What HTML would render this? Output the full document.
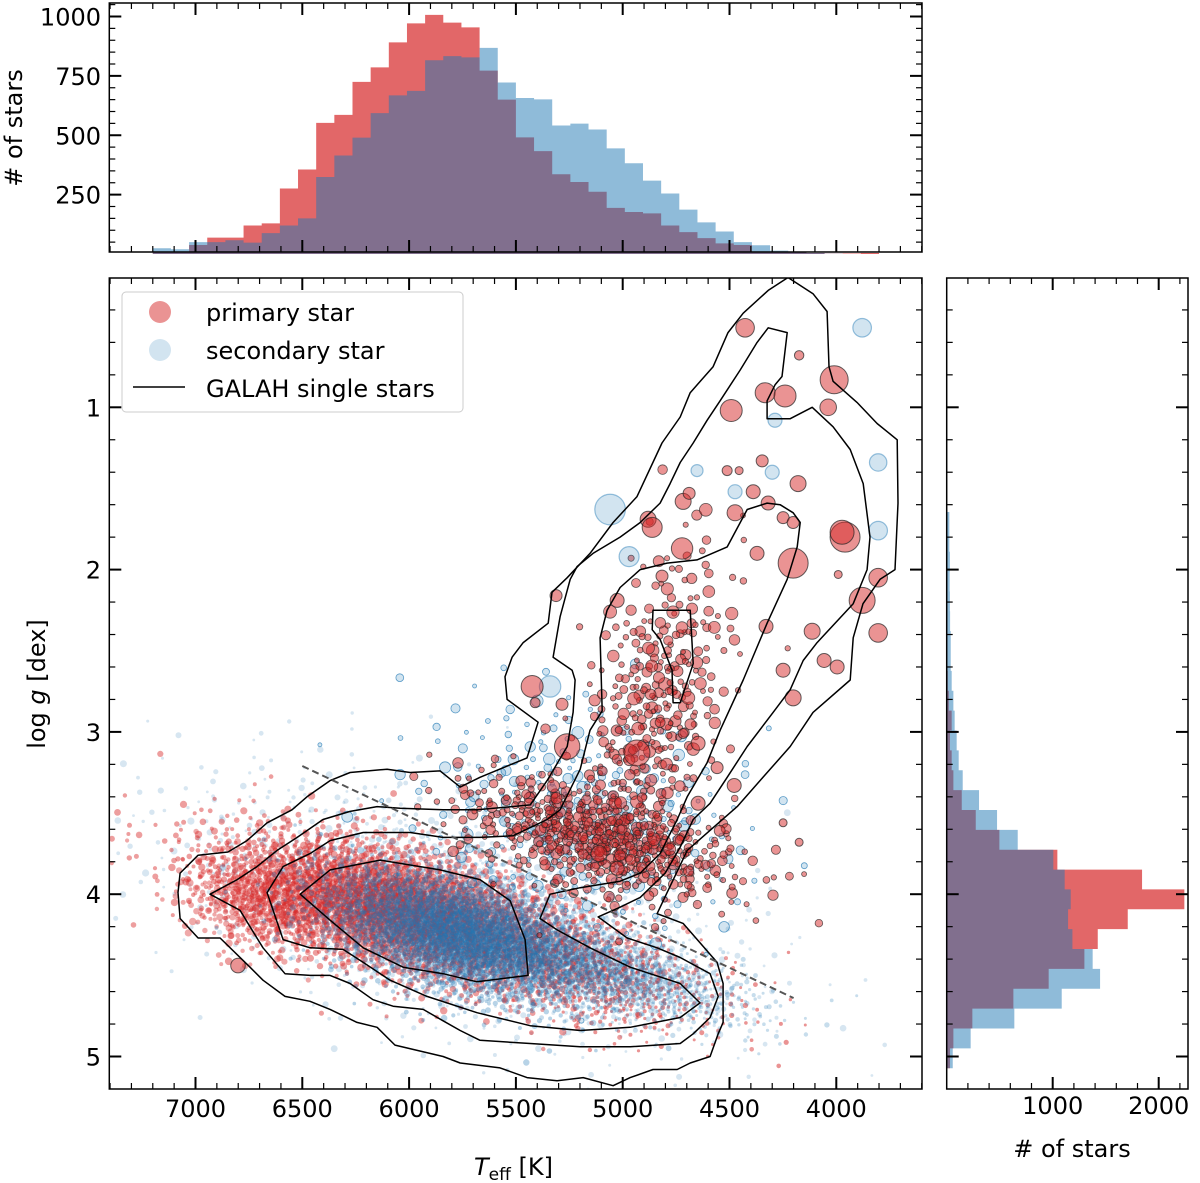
<!DOCTYPE html>
<html><head><meta charset="utf-8">
<style>
html,body{margin:0;padding:0;background:#fff;}
svg{display:block;font-family:"DejaVu Sans","Liberation Sans",sans-serif;}
</style></head>
<body>
<svg id="fig" width="1200" height="1183" viewBox="0 0 1200 1183" xmlns="http://www.w3.org/2000/svg">
<defs><clipPath id="mainclip"><rect x="109.3" y="278" width="812.7" height="811"/></clipPath></defs>
<rect width="1200" height="1183" fill="#fff"/>
<g id="tophist"></g>
<g id="righthist"></g>
<g id="scatter" clip-path="url(#mainclip)"></g>
<g id="contours" clip-path="url(#mainclip)"></g>
<g id="axes"></g>
<g id="legend">
  <rect x="122" y="292" width="341" height="120" rx="4" fill="#fff" fill-opacity="0.85" stroke="#ccc" stroke-width="1"/>
  <circle cx="160" cy="312" r="11" fill="#d62728" fill-opacity="0.5"/>
  <text x="206" y="321" font-size="24">primary star</text>
  <circle cx="160" cy="350" r="11" fill="#1f77b4" fill-opacity="0.2"/>
  <text x="206" y="359" font-size="24">secondary star</text>
  <line x1="133" y1="387" x2="185" y2="387" stroke="#000" stroke-width="1.5"/>
  <text x="206" y="397" font-size="24">GALAH single stars</text>
</g>
<text x="474" y="1175" font-size="24"><tspan font-style="italic">T</tspan><tspan font-size="17" dy="5">eff</tspan><tspan dy="-5"> [K]</tspan></text>
<text transform="translate(45,684) rotate(-90)" text-anchor="middle" font-size="24">log <tspan font-style="italic">g</tspan> [dex]</text>
<text transform="translate(22,128) rotate(-90)" text-anchor="middle" font-size="24"># of stars</text>
<text x="1072" y="1157" text-anchor="middle" font-size="24"># of stars</text>
</svg>
<script>
// ---------- data ----------
const teffBinStart = 7200;
const teffBinWidth = 85;
const teffCountsPrimary = [10,10,38,69,69,120,129,276,356,552,586,725,786,891,971,1007,974,954,772,650,491,433,336,303,262,194,177,171,120,92,67,45,38,10,10,7,4,1,2,4];
const teffCountsSecondary = [24,20,50,50,58,48,88,120,150,324,415,490,593,668,687,816,833,828,868,722,657,651,541,549,524,445,382,309,255,187,133,95,50,37,14,7,4,1,0,0];
const loggBinStart = 1.645;
const loggBinWidth = 0.1224;
const loggCountsPrimary = [0,0,0,0,0,0,0,5,10,20,47,31,47,63,142,274,497,1044,1843,2242,1708,1425,1299,962,629,242,63,31];
const loggCountsSecondary = [25,25,30,28,30,32,38,38,47,63,75,94,113,151,305,475,670,1006,1113,1170,1145,1186,1377,1447,1085,638,226,57];
const teffTickLabels = [7000,6500,6000,5500,5000,4500,4000];
const loggTickLabels = [1,2,3,4,5];
const topCountTickLabels = [250,500,750,1000];
const rightCountTickLabels = [1000,2000];

// GALAH single-star density contours [Teff, logg]
const contourOuter = [[4226,0.20],[4109,0.30],[4043,0.41],[4034,0.75],[4015,0.84],[3903,0.97],[3809,1.10],[3715,1.20],[3711,1.59],[3725,2.00],[3795,2.06],[3875,2.21],[3921,2.42],[3935,2.68],[4109,2.88],[4216,3.09],[4343,3.28],[4464,3.46],[4577,3.59],[4698,3.73],[4792,3.99],[4839,4.12],[4778,4.15],[4717,4.18],[4558,4.42],[4530,4.55],[4530,4.79],[4553,4.86],[4591,5.00],[4684,5.04],[4745,5.08],[4858,5.08],[4965,5.13],[5045,5.18],[5185,5.13],[5307,5.15],[5448,5.13],[5574,5.07],[5761,5.04],[5841,5.00],[6066,4.93],[6150,4.82],[6244,4.79],[6370,4.71],[6464,4.66],[6581,4.63],[6684,4.53],[6745,4.45],[6885,4.27],[6988,4.27],[7072,4.15],[7082,3.99],[7072,3.87],[6988,3.76],[6848,3.74],[6759,3.67],[6665,3.56],[6548,3.48],[6478,3.40],[6370,3.30],[6276,3.25],[6103,3.23],[5995,3.25],[5855,3.24],[5761,3.34],[5668,3.28],[5448,3.16],[5396,2.94],[5541,2.80],[5551,2.66],[5518,2.54],[5466,2.45],[5349,2.33],[5331,2.14],[5260,2.05],[5153,1.90],[5045,1.71],[4933,1.55],[4816,1.22],[4731,1.06],[4684,0.91],[4577,0.75],[4507,0.54],[4436,0.42],[4319,0.28]];
const contourSecond = [[4319,0.51],[4230,0.54],[4254,0.81],[4286,0.86],[4324,0.96],[4324,1.07],[4216,1.07],[4113,1.00],[4015,1.12],[3935,1.26],[3874,1.47],[3842,1.80],[3856,2.00],[3921,2.21],[4090,2.45],[4155,2.56],[4216,2.74],[4296,2.88],[4417,3.09],[4511,3.28],[4591,3.44],[4670,3.54],[4731,3.71],[4801,3.87],[4918,4.02],[5012,4.08],[5115,4.14],[4979,4.27],[4839,4.33],[4731,4.39],[4591,4.49],[4553,4.63],[4591,4.76],[4670,4.86],[4731,4.92],[4965,4.94],[5199,4.94],[5433,4.92],[5668,4.90],[5761,4.84],[5841,4.78],[5934,4.71],[6075,4.69],[6169,4.65],[6276,4.55],[6370,4.50],[6464,4.50],[6581,4.49],[6684,4.33],[6745,4.20],[6791,4.10],[6932,4.00],[6805,3.91],[6712,3.83],[6618,3.73],[6524,3.65],[6403,3.54],[6276,3.49],[6150,3.46],[6042,3.47],[5841,3.48],[5682,3.48],[5433,3.45],[5354,3.30],[5260,3.09],[5232,2.88],[5223,2.68],[5237,2.62],[5326,2.54],[5293,2.29],[5246,2.06],[5213,1.98],[5139,1.90],[5012,1.80],[4918,1.71],[4825,1.59],[4778,1.47],[4731,1.34],[4670,1.22],[4605,1.08],[4544,0.96],[4450,0.77],[4371,0.60]];
const contourThird = [[5096,2.87],[5106,2.42],[5073,2.25],[5012,2.11],[4918,2.00],[4792,1.96],[4652,1.94],[4511,1.86],[4417,1.63],[4324,1.59],[4263,1.60],[4202,1.65],[4169,1.71],[4183,1.86],[4230,2.06],[4324,2.33],[4436,2.68],[4544,2.99],[4605,3.19],[4698,3.40],[4745,3.54],[4825,3.75],[4918,3.87],[5012,3.92],[5199,3.96],[5340,4.00],[5387,4.15],[5307,4.22],[5153,4.33],[4965,4.45],[4731,4.55],[4638,4.67],[4731,4.76],[4965,4.82],[5199,4.84],[5433,4.81],[5682,4.73],[5916,4.63],[6089,4.53],[6215,4.42],[6309,4.34],[6464,4.33],[6590,4.28],[6665,3.99],[6590,3.83],[6464,3.75],[6370,3.67],[6215,3.62],[5995,3.62],[5841,3.65],[5668,3.65],[5513,3.64],[5354,3.54],[5293,3.48],[5199,3.23],[5153,2.99]];
const contourClumpCore = [[4858,2.25],[4684,2.25],[4670,2.58],[4731,2.82],[4764,2.82],[4769,2.62],[4825,2.43],[4862,2.37]];
const contourDwarfCore = [[6510,4.00],[6370,3.85],[6136,3.79],[5855,3.85],[5668,3.91],[5527,4.04],[5457,4.28],[5443,4.50],[5682,4.54],[5841,4.49],[6028,4.45],[6215,4.33],[6370,4.16]];
const dividerTeff = [6500,4200];
const dividerLogg = [3.21,4.64];

// individual large markers
const bigPrimaryTeff = [4427,4174,4010,4333,4240,4492,4038,4347,4511,4455,4179,4717,4689,4881,4862,4722,3959,3973,4202,4474,4319,4249,4202,4389,4371,3804,3879,3804,4329,4113,5424,4202,4249,4057,3996,3991,5312,4816,5026,6801,5260,4933,5410,5284,4647,4558,4478,5026,5111,4647,4717,4174,4249];
const bigPrimaryLogg = [0.51,0.68,0.83,0.91,0.93,1.02,1.00,1.33,1.39,1.39,1.47,1.58,1.53,1.69,1.74,1.87,1.80,1.77,1.96,1.65,1.59,1.68,1.71,1.52,1.90,2.05,2.19,2.39,2.35,2.38,2.72,2.79,2.62,2.56,2.60,2.03,2.16,2.04,2.19,4.44,3.09,3.13,2.82,2.83,3.44,3.22,3.33,3.84,3.75,3.07,3.01,3.68,3.56];
const bigPrimaryValue = [9.3,4.7,14,10,11,11,8.3,6,5,4,8,8,6,8,10,10.7,15,12,15,8,7,6,6,7,7,9.3,13,9.3,7,8,11,8,7,7,7,4,6,6,7,7.3,12.7,13,5,6,7,6,7,7,8,7,5,4,4];
const bigSecondaryTeff = [5059,3879,3804,3804,4287,5340,4970,4652,4300,4474];
const bigSecondaryLogg = [1.63,0.51,1.34,1.76,1.08,2.72,1.92,1.39,1.40,1.52];
const bigSecondaryValue = [15.3,9.3,8.7,9.3,7,10.7,10,6,7,7];

// population clusters (centre, spread, tilt in dex per 1000 K, number of stars)
const clusterName  = ['halo-blue','ms-red','ms-red-hot','ms-red-cool','ms-blue','ms-blue-cool','sg-blue','sg-red','rgb-red'];
const clusterTeff  = [5800,6050,6700,5200,5750,5000,5200,5100,4850];
const clusterLogg  = [4.10,4.10,4.05,4.45,4.25,4.50,3.50,3.65,2.85];
const clusterSdT   = [650,430,180,350,330,300,380,330,180];
const clusterSdG   = [0.35,0.20,0.15,0.17,0.18,0.12,0.35,0.16,0.45];
const clusterTilt  = [-0.3,-0.3,-0.2,-0.3,-0.3,-0.3,-0.2,-0.3,1.2];
const clusterCount = [1500,3200,450,800,3500,1200,300,550,330];

// ---------- scales ----------
const X = T => 195.5 + (7000 - T) * 0.2136;
const Y = g => 407.3 + (g - 1) * 162.3;
const HY = c => 254 - c * 0.2375;
const RX = c => 946.7 + c * 0.106;
const NS = 'http://www.w3.org/2000/svg';
function mk(tag, attrs, parent){const e=document.createElementNS(NS,tag);for(const k in attrs)e.setAttribute(k,attrs[k]);parent.appendChild(e);return e;}

// ---------- top histogram ----------
const topG = document.getElementById('tophist');
function topPath(counts){
  let d = 'M' + X(teffBinStart) + ',' + HY(0);
  counts.forEach((c,i)=>{const x0=X(teffBinStart - i*teffBinWidth), x1=X(teffBinStart-(i+1)*teffBinWidth);d+=' L'+x0+','+HY(c)+' L'+x1+','+HY(c);});
  d += ' L' + X(teffBinStart - counts.length*teffBinWidth) + ',' + HY(0) + ' Z';
  return d;
}
const tpR = mk('path',{d:topPath(teffCountsPrimary),fill:'#d62728','fill-opacity':0.7},topG);


const tpB = mk('path',{d:topPath(teffCountsSecondary),fill:'#1f77b4','fill-opacity':0.5},topG);



// ---------- right histogram ----------
const rh = document.getElementById('righthist');
function rightPath(counts){
  let d = 'M' + RX(0) + ',' + Y(loggBinStart);
  counts.forEach((c,i)=>{const y0=Y(loggBinStart+i*loggBinWidth), y1=Y(loggBinStart+(i+1)*loggBinWidth);d+=' L'+RX(c)+','+y0+' L'+RX(c)+','+y1;});
  d += ' L' + RX(0) + ',' + Y(loggBinStart+counts.length*loggBinWidth) + ' Z';
  return d;
}
const rpR = mk('path',{d:rightPath(loggCountsPrimary),fill:'#d62728','fill-opacity':0.7},rh);


const rpB = mk('path',{d:rightPath(loggCountsSecondary),fill:'#1f77b4','fill-opacity':0.5},rh);



// ---------- scatter ----------
const sc = document.getElementById('scatter');
function halton(i,b){let f=1,r=0;while(i>0){f/=b;r+=f*(i%b);i=Math.floor(i/b);}return r;}
const clusterStyle = {
  'halo-blue':   {fill:'#1f77b4',op:0.18,r0:1.4,rv:2.2,stroke:null},
  'ms-red':      {fill:'#d62728',op:0.45,r0:2.0,rv:1.8,stroke:null},
  'ms-red-hot':  {fill:'#d62728',op:0.4,r0:2.0,rv:1.8,stroke:null},
  'ms-red-cool': {fill:'#d62728',op:0.5,r0:1.5,rv:1.2,stroke:null},
  'ms-blue':     {fill:'#1f77b4',op:0.32,r0:1.8,rv:1.6,stroke:null},
  'ms-blue-cool':{fill:'#1f77b4',op:0.25,r0:1.5,rv:1.2,stroke:null},
  'sg-blue':     {fill:'#1f77b4',op:0.2,r0:2,rv:4,stroke:'#1f77b4'},
  'sg-red':      {fill:'#d62728',op:0.5,r0:2.5,rv:3,stroke:'#222'},
  'rgb-red':     {fill:'#d62728',op:0.5,r0:2.5,rv:4,stroke:'#222'}
};
let offset = 1;
clusterName.forEach((name,c)=>{
  const st = clusterStyle[name];
  const g = mk('g',{},sc);
  
  
  for(let i=0;i<clusterCount[c];i++){
    const k=i+offset;
    const u1=Math.max(halton(k,2),1e-4), u2=halton(k,3), u3=halton(k,5);
    const rr=Math.sqrt(-2*Math.log(u1));
    const z1=rr*Math.cos(2*Math.PI*u2), z2=rr*Math.sin(2*Math.PI*u2);
    const T=clusterTeff[c]+z1*clusterSdT[c];
    const lg=clusterLogg[c]+clusterTilt[c]*(clusterTeff[c]-T)/-1000+z2*clusterSdG[c];
    const a={cx:X(T).toFixed(1),cy:Y(lg).toFixed(1),r:(st.r0+st.rv*u3*u3).toFixed(1),fill:st.fill,'fill-opacity':st.op};
    if(st.stroke){a.stroke=st.stroke;a['stroke-width']=0.8;a['stroke-opacity']=0.7;}
    const p=mk('circle',a,g);
    
    
  }
  offset += clusterCount[c];
});
const bigG = mk('g',{},sc);


bigSecondaryTeff.forEach((T,i)=>{
  const p=mk('circle',{cx:X(T),cy:Y(bigSecondaryLogg[i]),r:bigSecondaryValue[i],fill:'#1f77b4','fill-opacity':0.2,stroke:'#1f77b4','stroke-opacity':0.45,'stroke-width':1.2},bigG);
  
  
});
bigPrimaryTeff.forEach((T,i)=>{
  const p=mk('circle',{cx:X(T),cy:Y(bigPrimaryLogg[i]),r:bigPrimaryValue[i],fill:'#d62728','fill-opacity':0.5,stroke:'#222','stroke-opacity':0.7,'stroke-width':1},bigG);
  
  
});

// ---------- contours ----------
const cg = document.getElementById('contours');
[['contour-outer',contourOuter],['contour-second',contourSecond],['contour-third',contourThird],['contour-clump-core',contourClumpCore],['contour-dwarf-core',contourDwarfCore]].forEach(([nm,pts])=>{
  const d='M'+pts.map(p=>X(p[0]).toFixed(1)+','+Y(p[1]).toFixed(1)).join(' L')+' Z';
  const p=mk('path',{d:d,fill:'none',stroke:'#000','stroke-width':1.5,'stroke-linejoin':'round'},cg);
  
  
});
const dl=mk('line',{x1:X(dividerTeff[0]),y1:Y(dividerLogg[0]),x2:X(dividerTeff[1]),y2:Y(dividerLogg[1]),stroke:'#555','stroke-width':2,'stroke-dasharray':'7,4'},cg);



// ---------- axes ----------
const ax = document.getElementById('axes');
function frame(x,y,w,h,name){const r=mk('rect',{x:x,y:y,width:w,height:h,fill:'none',stroke:'#000','stroke-width':1.5},ax);}
frame(109.3,3,812.7,249,'top-hist-frame');
frame(109.3,278,812.7,811,'main-plot-frame');
frame(946.7,278,241.3,811,'right-hist-frame');
function tick(x1,y1,x2,y2,major){mk('line',{x1:x1,y1:y1,x2:x2,y2:y2,stroke:'#000','stroke-width':major?2:1.2},ax);}
function label(x,y,t,anchor,name){const e=mk('text',{x:x,y:y,'text-anchor':anchor,'font-size':24},ax);e.textContent=t;}
for(let T=7400;T>=3600;T-=100){
  const x=X(T); if(x<109.5||x>921.8) continue;
  const major=T%500===0, L=major?12:6;
  tick(x,1089,x,1089-L,major); tick(x,278,x,278+L,major);
  tick(x,252,x,252-L,major); tick(x,3,x,3+L,major);
}
teffTickLabels.forEach(T=>label(X(T),1117,String(T),'middle','x-tick-label'));
for(let i=1;i<=26;i++){
  const g=0.2*i; const y=Y(g); if(y<278.5||y>1088.5) continue;
  const major=Math.abs(g-Math.round(g))<1e-6, L=major?12:6;
  tick(109.3,y,109.3+L,y,major); tick(922,y,922-L,y,major);
  tick(946.7,y,946.7+L,y,major); tick(1188,y,1188-L,y,major);
}
loggTickLabels.forEach(g=>label(101,Y(g)+9,String(g),'end','y-tick-label'));
for(let c=50;c<=1050;c+=50){
  const y=HY(c); if(y<3.5) continue;
  const major=c%250===0, L=major?12:6;
  tick(109.3,y,109.3+L,y,major); tick(922,y,922-L,y,major);
}
topCountTickLabels.forEach(c=>label(101,HY(c)+9,String(c),'end','top-hist-tick-label'));
for(let c=200;c<=2200;c+=200){
  const x=RX(c); const major=c%1000===0, L=major?12:6;
  tick(x,1089,x,1089-L,major); tick(x,278,x,278+L,major);
}
rightCountTickLabels.forEach(c=>label(RX(c),1114,String(c),'middle','right-hist-tick-label'));
</script>
</body></html>
